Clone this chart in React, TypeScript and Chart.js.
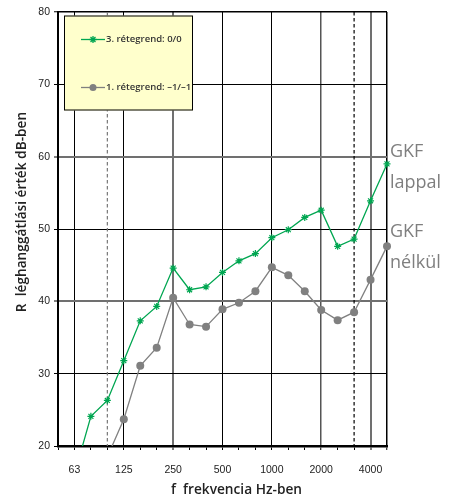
import React, { useEffect, useRef } from "react";
import { Chart, registerables } from "chart.js";

Chart.register(...registerables);

const frequencies = ["50", "63", "80", "100", "125", "160", "200", "250", "315", "400", "500", "630", "800", "1000", "1250", "1600", "2000", "2500", "3150", "4000", "5000"];
const shownLabels = ["63", "125", "250", "500", "1000", "2000", "4000"];
const series3Label = "3. rétegrend: 0/0";
const series3Values = [null, 16.1, 24.1, 26.3, 31.8, 37.3, 39.3, 44.6, 41.6, 42.0, 44.0, 45.6, 46.6, 48.8, 49.9, 51.6, 52.6, 47.6, 48.6, 53.9, 59.0];
const series1Label = "1. rétegrend: –1/–1";
const series1Values = [null, null, null, 18.5, 23.7, 31.1, 33.6, 40.5, 36.8, 36.5, 38.9, 39.8, 41.4, 44.7, 43.6, 41.4, 38.8, 37.4, 38.5, 43.0, 47.6];
const yTicks = [20, 30, 40, 50, 60, 70, 80];
const xTitle = "f  frekvencia Hz-ben";
const yTitle = "R  léghanggátlási érték dB-ben";
const sideLabels = [
  { lines: ["GKF", "lappal"], value: 60.7 },
  { lines: ["GKF", "nélkül"], value: 49.6 },
];

const GREEN = "#00a651";
const GRAY = "#808080";

const xGridStyle: Record<string, { color: string; width: number }> = {
  "63": { color: "#000", width: 1 },
  "125": { color: "#000", width: 1 },
  "250": { color: "#707070", width: 2 },
  "500": { color: "#000", width: 1 },
  "1000": { color: "#000", width: 1 },
  "2000": { color: "#555", width: 1.5 },
  "4000": { color: "#707070", width: 2 },
  "5000": { color: "#000", width: 1.5 },
};
const xDashed: Record<string, string> = { "100": "#777", "3150": "#000" };
const yGridStyle: Record<number, { color: string; width: number }> = {
  30: { color: "#000", width: 1 },
  40: { color: "#707070", width: 2 },
  50: { color: "#000", width: 1 },
  60: { color: "#707070", width: 2 },
  70: { color: "#000", width: 1 },
  80: { color: "#000", width: 1.5 },
};

const extrasPlugin = {
  id: "extras",
  beforeDatasetsDraw(chart: any) {
    const { ctx, chartArea, scales } = chart;
    const x = scales.x;
    ctx.save();
    ctx.setLineDash([3.5, 2.5]);
    ctx.lineWidth = 1.2;
    Object.keys(xDashed).forEach((f) => {
      const px = x.getPixelForValue(frequencies.indexOf(f));
      ctx.strokeStyle = xDashed[f];
      ctx.beginPath();
      ctx.moveTo(px, chartArea.top);
      ctx.lineTo(px, chartArea.bottom);
      ctx.stroke();
    });
    ctx.restore();
  },
  afterDraw(chart: any) {
    const { ctx, chartArea, scales } = chart;
    const y = scales.y;
    ctx.save();
    // legend box
    const lx = chartArea.left + 6;
    const ly = chartArea.top + 3.5;
    const lw = 129;
    const lh = 95;
    ctx.fillStyle = "#ffffcc";
    ctx.fillRect(lx, ly, lw, lh);
    ctx.strokeStyle = "#000";
    ctx.lineWidth = 1;
    ctx.strokeRect(lx + 0.5, ly + 0.5, lw - 1, lh - 1);
    const entries = [
      { label: series3Label, color: GREEN, style: "star", yy: ly + 24 },
      { label: series1Label, color: GRAY, style: "circle", yy: ly + 72 },
    ];
    entries.forEach((e) => {
      const sx = lx + 17;
      ctx.strokeStyle = e.color;
      ctx.lineWidth = 1.3;
      ctx.setLineDash([]);
      ctx.beginPath();
      ctx.moveTo(sx, e.yy);
      ctx.lineTo(sx + 24, e.yy);
      ctx.stroke();
      if (e.style === "circle") {
        ctx.fillStyle = e.color;
        ctx.beginPath();
        ctx.arc(sx + 12, e.yy, 3.5, 0, Math.PI * 2);
        ctx.fill();
      } else {
        const r = 3.5;
        ctx.beginPath();
        for (let a = 0; a < 4; a++) {
          const ang = (a * Math.PI) / 4;
          ctx.moveTo(sx + 12 - r * Math.cos(ang), e.yy - r * Math.sin(ang));
          ctx.lineTo(sx + 12 + r * Math.cos(ang), e.yy + r * Math.sin(ang));
        }
        ctx.stroke();
      }
      ctx.fillStyle = "#333";
      ctx.font = "600 9.5px 'Open Sans'";
      ctx.textAlign = "left";
      ctx.textBaseline = "middle";
      ctx.fillText(e.label, sx + 25, e.yy);
    });
    // side labels
    ctx.fillStyle = "#7f7f7f";
    ctx.font = "18px 'Open Sans'";
    ctx.textAlign = "left";
    ctx.textBaseline = "middle";
    sideLabels.forEach((s) => {
      const py = y.getPixelForValue(s.value);
      s.lines.forEach((ln, i) => {
        ctx.fillText(ln, chartArea.right + 3, py + i * 31);
      });
    });
    // axis titles
    ctx.fillStyle = "#222";
    ctx.font = "600 13.7px 'Open Sans'";
    ctx.textAlign = "center";
    ctx.textBaseline = "middle";
    ctx.fillText(xTitle, (chartArea.left + chartArea.right) / 2 + 14, chartArea.bottom + 44);
    ctx.translate(22, (chartArea.top + chartArea.bottom) / 2 - 17);
    ctx.rotate(-Math.PI / 2);
    ctx.fillText(yTitle, 0, 0);
    ctx.restore();
  },
};

export default function App() {
  const canvasRef = useRef<HTMLCanvasElement | null>(null);
  useEffect(() => {
    document.body.style.margin = "0";
    const canvas = canvasRef.current;
    if (!canvas) return;
    const chart = new Chart(canvas, {
      type: "line",
      data: {
        labels: frequencies,
        datasets: [
          {
            label: series3Label,
            data: series3Values,
            borderColor: GREEN,
            backgroundColor: GREEN,
            borderWidth: 1.3,
            pointStyle: "star",
            pointRadius: 3.5,
            pointBorderWidth: 1.2,
            pointBorderColor: GREEN,
            tension: 0,
            spanGaps: false,
          },
          {
            label: series1Label,
            data: series1Values,
            borderColor: GRAY,
            backgroundColor: GRAY,
            borderWidth: 1.3,
            pointStyle: "circle",
            pointRadius: 4,
            pointBorderWidth: 0,
            tension: 0,
          },
        ],
      },
      options: {
        animation: false,
        responsive: false,
        maintainAspectRatio: false,
        layout: { padding: { top: 12, right: 77, left: 0, bottom: 0 } },
        plugins: { legend: { display: false }, tooltip: { enabled: false } },
        scales: {
          x: {
            type: "category",
            offset: false,
            afterFit: (s: any) => {
              s.height = 53;
            },
            grid: {
              offset: false,
              drawOnChartArea: true,
              color: (c: any) => {
                const f = frequencies[c.index];
                return xGridStyle[f] ? xGridStyle[f].color : "rgba(0,0,0,0)";
              },
              lineWidth: (c: any) => {
                const f = frequencies[c.index];
                return xGridStyle[f] ? xGridStyle[f].width : 1;
              },
              tickColor: "#000",
              tickLength: 4,
              tickWidth: 1,
            },
            border: { display: true, color: "#000", width: 2.5 },
            ticks: {
              autoSkip: false,
              maxRotation: 0,
              padding: 14,
              color: "#222",
              font: { family: "'Liberation Sans', Arial", size: 10.5 },
              callback: (v: any, i: number) => (shownLabels.includes(frequencies[i]) ? frequencies[i] : ""),
            },
            title: { display: false },
          },
          y: {
            min: yTicks[0],
            max: yTicks[yTicks.length - 1],
            afterFit: (s: any) => {
              s.width = 58;
            },
            afterBuildTicks: (s: any) => {
              s.ticks = yTicks.map((v) => ({ value: v }));
            },
            grid: {
              color: (c: any) => {
                const v = c.tick && c.tick.value;
                return yGridStyle[v] ? yGridStyle[v].color : "rgba(0,0,0,0)";
              },
              lineWidth: (c: any) => {
                const v = c.tick && c.tick.value;
                return yGridStyle[v] ? yGridStyle[v].width : 1;
              },
              tickColor: "#000",
              tickLength: 4,
              tickWidth: 1,
            },
            border: { display: true, color: "#000", width: 2 },
            ticks: {
              padding: 4,
              color: "#222",
              font: { family: "'Liberation Sans', Arial", size: 10.5 },
            },
            title: { display: false },
          },
        },
      } as any,
      plugins: [extrasPlugin],
    });
    return () => chart.destroy();
  }, []);
  return (
    <div style={{ width: 464, height: 499 }}>
      <canvas ref={canvasRef} width={464} height={499} style={{ display: "block" }} />
    </div>
  );
}
